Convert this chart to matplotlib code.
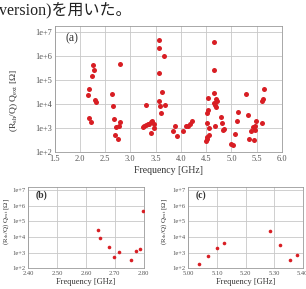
import numpy as np
import matplotlib
matplotlib.use("Agg")
import matplotlib.pyplot as plt
from matplotlib.ticker import FixedLocator, FuncFormatter, NullLocator

# ---- data (log10 of (R_sh/Q) Q_ext) ----
freq_a = [2.26, 2.28, 2.24, 2.19, 2.17, 2.31, 2.33, 2.18, 2.22,
          2.641, 2.650, 2.678, 2.696, 2.716, 2.756, 2.773, 2.787, 2.796,
          3.25, 3.28, 3.31, 3.34, 3.37, 3.41, 3.43, 3.46, 3.47, 3.40, 3.30,
          3.56, 3.56, 3.66, 3.56, 3.62, 3.56, 3.58, 3.68, 3.60,
          3.89, 3.84, 3.93, 4.05, 4.10, 4.14, 4.19, 4.22,
          4.65, 4.65, 4.65, 4.53, 4.69, 4.72, 4.65, 4.68, 4.70, 4.53, 4.52,
          4.52, 4.67, 4.56, 4.56, 4.52, 4.51, 4.49, 4.79, 4.81, 4.85, 4.84,
          4.99, 5.039, 5.07, 5.10, 5.125, 5.284, 5.32, 5.355, 5.38,
          5.42, 5.46, 5.49, 5.47, 5.45, 5.60, 5.61, 5.62, 5.64]
logz_a = [5.60, 5.42, 5.15, 4.61, 4.39, 4.18, 4.09, 3.43, 3.26,
          4.42, 3.93, 3.36, 2.71, 3.06, 2.52, 3.10, 3.23, 5.66,
          3.05, 3.10, 3.12, 3.15, 3.17, 3.24, 3.27, 3.15, 2.98, 2.78, 3.95,
          6.66, 6.34, 6.00, 5.28, 4.50, 4.12, 3.91, 3.95, 3.63,
          3.09, 2.89, 2.67, 2.89, 3.09, 3.09, 3.17, 3.30,
          6.58, 5.42, 4.47, 4.26, 4.19, 4.12, 4.02, 3.95, 3.88, 3.74, 3.64,
          3.20, 3.09, 3.00, 2.69, 2.64, 2.54, 2.44, 3.47, 3.19, 2.97, 2.91,
          2.33, 2.30, 2.76, 3.30, 3.65, 4.41, 3.52, 2.56, 2.88,
          3.03, 3.09, 3.30, 2.91, 2.50, 3.22, 4.12, 4.19, 4.64]

freq_b = [2.641, 2.650, 2.678, 2.696, 2.716, 2.756, 2.773, 2.787, 2.796]
logz_b = [4.42, 3.93, 3.36, 2.71, 3.06, 2.52, 3.10, 3.23, 5.66]

freq_c = [5.039, 5.07, 5.10, 5.125, 5.284, 5.32, 5.355, 5.38]
logz_c = [2.30, 2.76, 3.30, 3.65, 4.41, 3.52, 2.56, 2.88]

xt_a = [1.5, 2.0, 2.5, 3.0, 3.5, 4.0, 4.5, 5.0, 5.5, 6.0]
xt_b = [2.40, 2.50, 2.60, 2.70, 2.80]
xt_c = [5.00, 5.10, 5.20, 5.30, 5.40]
yt = [1e2, 1e3, 1e4, 1e5, 1e6, 1e7]

caption = "version)を用いた。"
ylab = r"(R$_{\mathrm{sh}}$/Q) Q$_{\mathrm{ext}}$ [$\Omega$]"
xlab = "Frequency [GHz]"

serif = ["Liberation Serif", "DejaVu Serif"]
plt.rcParams["font.family"] = serif
plt.rcParams["mathtext.fontset"] = "custom"
plt.rcParams["mathtext.rm"] = "Liberation Serif"
plt.rcParams["mathtext.it"] = "Liberation Serif:italic"

W, H = 306, 289
fig = plt.figure(figsize=(W / 100, H / 100), dpi=100)
fig.patch.set_facecolor("white")

red = "#d81e24"
gridc = "#c8c8c8"
framec = "#9a9a9a"

def yfmt(v, pos):
    return "1e+%d" % int(round(np.log10(v)))

def style(ax, xt, xfmt, tick_fs, ms, data_x, data_y, lab_fs, ylab_x, ylab_y, xlab_fs, xlab_pad):
    ax.plot(data_x, np.power(10.0, data_y), "o", color=red, ms=ms, mec=red, mew=0, zorder=3)
    ax.set_yscale("log")
    ax.set_xlim(xt[0], xt[-1])
    ax.set_ylim(1e2, 10 ** 7.22)
    ax.xaxis.set_major_locator(FixedLocator(xt))
    ax.xaxis.set_major_formatter(FuncFormatter(lambda v, p: xfmt % v))
    ax.yaxis.set_major_locator(FixedLocator(yt))
    ax.yaxis.set_major_formatter(FuncFormatter(yfmt))
    ax.yaxis.set_minor_locator(NullLocator())
    ax.grid(True, color=gridc, lw=0.6, ls="-")
    ax.set_axisbelow(True)
    for s in ax.spines.values():
        s.set_color(framec)
        s.set_linewidth(0.6)
    ax.tick_params(axis="both", length=0, labelsize=tick_fs, colors="#555555", pad=2)
    ax.set_ylabel(ylab, fontsize=lab_fs, color="#333333")
    ax.yaxis.set_label_coords(ylab_x, ylab_y)
    ax.set_xlabel(xlab, fontsize=xlab_fs, color="#333333", labelpad=xlab_pad)

# main panel (a)
ax_a = fig.add_axes([54.5 / W, 1 - 152 / H, (282 - 54.5) / W, (152 - 26) / H])
style(ax_a, xt_a, "%.1f", 6, 3.6, freq_a, logz_a, 6.8, -0.15, 0.41, 7, 2)
ax_a.set_ylim(1e2, 10 ** 7.24)
ax_a.text(0.05, 0.90, "(a)", transform=ax_a.transAxes, fontsize=8.5, color="#333333", va="center")

# panel (b)
ax_b = fig.add_axes([28.3 / W, 1 - 268.3 / H, (143.7 - 28.3) / W, (268.3 - 186.7) / H])
style(ax_b, xt_b, "%.2f", 4.7, 2.6, freq_b, logz_b, 5, -0.15, 0.57, 6, 1.5)
ax_b.text(0.06, 0.89, "(b)", transform=ax_b.transAxes, fontsize=7, color="#333333", va="center", fontweight="bold")

# panel (c)
ax_c = fig.add_axes([188.3 / W, 1 - 268.3 / H, (302.8 - 188.3) / W, (268.3 - 186.7) / H])
style(ax_c, xt_c, "%.2f", 4.7, 2.6, freq_c, logz_c, 5, -0.17, 0.57, 6, 1.5)
ax_c.text(0.06, 0.89, "(c)", transform=ax_c.transAxes, fontsize=7, color="#333333", va="center", fontweight="bold")

# caption text at the top
fig.text(-1 / W, 1 - 11 / H, caption, fontsize=11.5, color="#222222", va="center", ha="left",
         family=["Liberation Serif", "Noto Sans CJK JP"])

fig.savefig("out.png", dpi=100, facecolor="white")
